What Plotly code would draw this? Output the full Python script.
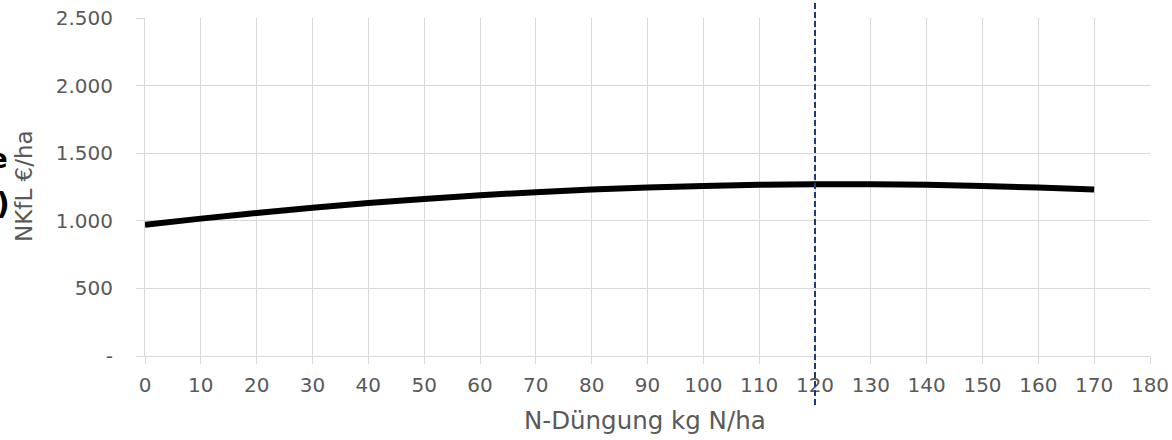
import plotly.graph_objects as go

# Data
n_rate = [0, 10, 20, 30, 40, 50, 60, 70, 80, 90, 100, 110, 120, 130, 140, 150, 160, 170]
nkfl = [970, 1016, 1058, 1097, 1131, 1162, 1189, 1212, 1231, 1246, 1258, 1266, 1270, 1270, 1266, 1258, 1246, 1231]
optimum_n = 120

x_ticks = list(range(0, 181, 10))
x_ticktext = [str(v) for v in x_ticks]
y_ticks = [0, 500, 1000, 1500, 2000, 2500]
y_ticktext = ["-", "500", "1.000", "1.500", "2.000", "2.500"]

x_title = "N-Düngung kg N/ha"
y_title = "NKfL €/ha"

font_family = "DejaVu Sans"
grey = "#595959"
grid = "#d9d9d9"

L, R, T, B = 145, 22, 18, 84
W, H = 1172, 440
pw, ph = W - L - R, H - T - B


def px_x(px):
    return (px - L) / pw


def px_y(py):
    return (H - B - py) / ph


fig = go.Figure()
fig.add_trace(go.Scatter(
    x=n_rate, y=nkfl, mode="lines",
    line=dict(color="black", width=6, shape="spline"),
    showlegend=False, hoverinfo="skip",
))

fig.add_shape(type="line", xref="x", yref="paper",
              x0=optimum_n, x1=optimum_n, y0=px_y(405), y1=px_y(-2),
              line=dict(color="#1f3a78", width=2, dash="6px,3px"))

# axis titles
fig.add_annotation(xref="paper", yref="paper", x=px_x(645), y=px_y(420),
                   xanchor="center", yanchor="middle", text=x_title, showarrow=False,
                   font=dict(family=font_family, size=24.5, color=grey))
fig.add_annotation(xref="paper", yref="paper", x=px_x(24), y=px_y(186),
                   xanchor="center", yanchor="middle", text=y_title, showarrow=False,
                   textangle=-90,
                   font=dict(family=font_family, size=23, color=grey))

# partially visible bold text fragments at the left edge
fig.add_annotation(xref="paper", yref="paper", x=px_x(10), y=px_y(159),
                   xanchor="right", yanchor="middle",
                   text="e", showarrow=False,
                   font=dict(family=font_family, size=26, color="black", weight="bold"))
fig.add_annotation(xref="paper", yref="paper", x=px_x(12), y=px_y(203),
                   xanchor="right", yanchor="middle",
                   text=")", showarrow=False,
                   font=dict(family=font_family, size=30, color="black", weight="bold"))

fig.update_layout(
    width=W, height=H,
    margin=dict(l=L, r=R, t=T, b=B),
    paper_bgcolor="white", plot_bgcolor="white",
    font=dict(family=font_family, size=20, color=grey),
    xaxis=dict(
        range=[0, 180], tickvals=x_ticks, ticktext=x_ticktext,
        showgrid=True, gridcolor=grid, gridwidth=1,
        showline=True, linecolor=grid, linewidth=1,
        ticks="outside", ticklen=7, tickcolor=grid,
        ticklabelstandoff=4,
        zeroline=False, automargin=False,
    ),
    yaxis=dict(
        range=[0, 2500], tickvals=y_ticks, ticktext=y_ticktext,
        showgrid=True, gridcolor=grid, gridwidth=1,
        showline=True, linecolor=grid, linewidth=1,
        ticks="outside", ticklen=8, tickcolor=grid,
        ticklabelstandoff=19,
        zeroline=False, automargin=False,
    ),
)

fig.write_html("out.html",
               config={"displayModeBar": False},
               post_script="document.body.style.margin='0';document.body.style.padding='0';")
